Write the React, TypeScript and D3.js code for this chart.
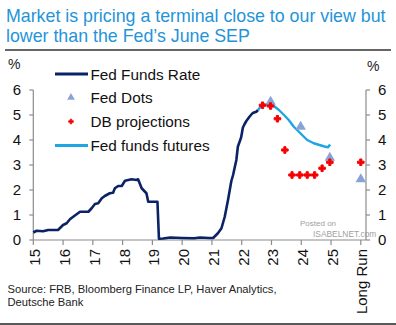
import React from "react";
import * as d3 from "d3";

const titleLines = ["Market is pricing a terminal close to our view but", "lower than the Fed\u2019s June SEP"];
const sourceLines = ["Source: FRB, Bloomberg Finance LP, Haver Analytics,", "Deutsche Bank"];

const xTickYears = [2015, 2016, 2017, 2018, 2019, 2020, 2021, 2022, 2023, 2024, 2025];
const xTickLabels = ["15", "16", "17", "18", "19", "20", "21", "22", "23", "24", "25"];
const longRunLabel = "Long Run";
const longRunX = 2026;
const yTicks = [0, 1, 2, 3, 4, 5, 6];

const fedFundsYears = [
  2015.0, 2015.11, 2015.33, 2015.5, 2015.83, 2016.0, 2016.12, 2016.23, 2016.34, 2016.57, 2016.85, 2016.96,
  2017.07, 2017.18, 2017.3, 2017.4, 2017.57, 2017.68, 2017.74, 2017.85, 2017.97, 2018.08, 2018.3, 2018.47,
  2018.52, 2018.64, 2018.8, 2018.86, 2019.03, 2019.17, 2019.22, 2019.36, 2019.6, 2020.0, 2020.4, 2020.6,
  2020.9, 2021.04, 2021.2, 2021.32, 2021.43, 2021.54, 2021.65, 2021.71, 2021.82, 2021.87, 2021.98, 2022.04,
  2022.09, 2022.15, 2022.26, 2022.37, 2022.49, 2022.55,
];
const fedFundsValues = [
  0.3, 0.37, 0.35, 0.4, 0.4, 0.6, 0.67, 0.83, 0.93, 1.13, 1.13, 1.27,
  1.44, 1.47, 1.67, 1.76, 1.87, 1.89, 2.07, 2.16, 2.16, 2.37, 2.43, 2.4,
  2.43, 2.07, 1.87, 1.53, 1.53, 1.53, 0.05, 0.06, 0.1, 0.08, 0.07, 0.1,
  0.08, 0.08, 0.27, 0.47, 0.93, 1.6, 2.35, 2.6, 3.2, 3.73, 4.1, 4.5,
  4.62, 4.75, 4.93, 5.08, 5.13, 5.2,
];

const futuresYears = [
  2022.55, 2022.63, 2022.75, 2022.85, 2022.97, 2023.08, 2023.25, 2023.42, 2023.58, 2023.75, 2023.97, 2024.2,
  2024.42, 2024.61, 2024.78, 2024.9, 2024.97,
];
const futuresValues = [
  5.2, 5.33, 5.42, 5.4, 5.47, 5.36, 5.2, 5.0, 4.8, 4.53, 4.27, 4.0,
  3.87, 3.8, 3.74, 3.71, 3.82,
];

const dbYears = [2022.7, 2022.97, 2023.2, 2023.45, 2023.69, 2023.95, 2024.2, 2024.45, 2024.7, 2024.96, longRunX];
const dbValues = [5.39, 5.36, 4.85, 3.6, 2.6, 2.6, 2.6, 2.6, 2.87, 3.11, 3.11];

const dotsYears = [2022.97, 2023.98, 2024.96, longRunX];
const dotsValues = [5.57, 4.57, 3.33, 2.47];

const legendLabels = ["Fed Funds Rate", "Fed Dots", "DB projections", "Fed funds futures"];

const NAVY = "#0b2366";
const LIGHT = "#1ea5e3";
const TRI = "#8aa3d6";
const RED = "#f50000";
const AXIS = "#8c8c8c";
const TITLE = "#2494d8";
const FONT = "Arial, 'Liberation Sans', sans-serif";

export default function App() {
  const x = d3.scaleLinear().domain([2015, 2026]).range([33.3, 360.8]);
  const y = d3.scaleLinear().domain([0, 6]).range([240, 90]);
  const leftX = 33.3;
  const rightX = 366;

  const line = d3
    .line<[number, number]>()
    .x((d) => x(d[0]))
    .y((d) => y(d[1]))
    .curve(d3.curveLinear);

  const ffData: [number, number][] = fedFundsYears.map((yr, i) => [yr, fedFundsValues[i]]);
  const futData: [number, number][] = futuresYears.map((yr, i) => [yr, futuresValues[i]]);

  const tri = d3.symbol().type(d3.symbolTriangle).size(48)();
  const triSmall = d3.symbol().type(d3.symbolTriangle).size(26)();
  const cross = d3.symbol().type(d3.symbolCross).size(24)();
  const crossSmall = d3.symbol().type(d3.symbolCross).size(12)();

  const legendY = [74, 97.5, 121.5, 145.5];

  return (
    <svg width={396} height={325} style={{ position: "absolute", left: 0, top: 0, background: "#fff" }} fontFamily={FONT}>
      <rect x={0} y={0} width={396} height={325} fill="#fff" />
      {/* title */}
      {titleLines.map((t, i) => (
        <text key={i} x={6} y={21.5 + i * 20.5} fontSize={17.8} fill={TITLE}>
          {t}
        </text>
      ))}
      <line x1={5} x2={391} y1={50} y2={50} stroke="#333" strokeWidth={1.6} />

      {/* unit labels */}
      <text x={8} y={69} fontSize={14} fill="#222">%</text>
      <text x={367} y={71} fontSize={14} fill="#222">%</text>

      {/* watermark */}
      <text x={300} y={226} fontSize={8} fill="#a0a0a0">Posted on</text>
      <text x={313} y={237} fontSize={8.4} fill="#a0a0a0">ISABELNET.com</text>

      {/* axes */}
      <line x1={leftX} x2={leftX} y1={y(6)} y2={y(0)} stroke={AXIS} strokeWidth={1.2} />
      <line x1={rightX} x2={rightX} y1={y(6)} y2={y(0)} stroke={AXIS} strokeWidth={1.2} />
      <line x1={leftX} x2={rightX} y1={y(0)} y2={y(0)} stroke={AXIS} strokeWidth={1.2} />
      {yTicks.map((v) => (
        <g key={v}>
          <line x1={leftX - 4} x2={leftX} y1={y(v)} y2={y(v)} stroke={AXIS} strokeWidth={1.2} />
          <line x1={rightX} x2={rightX + 4} y1={y(v)} y2={y(v)} stroke={AXIS} strokeWidth={1.2} />
          <text x={21} y={y(v)} dy="0.36em" textAnchor="end" fontSize={15} fill="#111">{v}</text>
          <text x={378} y={y(v)} dy="0.36em" textAnchor="start" fontSize={15} fill="#111">{v}</text>
        </g>
      ))}
      {xTickYears.concat([longRunX]).map((yr) => (
        <line key={yr} x1={x(yr)} x2={x(yr)} y1={y(0)} y2={y(0) + 5} stroke={AXIS} strokeWidth={1.2} />
      ))}
      {xTickYears.map((yr, i) => (
        <text
          key={yr}
          transform={`translate(${x(yr) + 1.5},249) rotate(-90)`}
          textAnchor="end"
          dy="0.36em"
          fontSize={15}
          fill="#111"
        >
          {xTickLabels[i]}
        </text>
      ))}
      <text transform={`translate(${x(longRunX) + 1},249) rotate(-90)`} textAnchor="end" dy="0.36em" fontSize={15} fill="#111">
        {longRunLabel}
      </text>

      {/* series */}
      <path d={line(ffData) || ""} fill="none" stroke={NAVY} strokeWidth={2.6} strokeLinejoin="round" />
      <path d={line(futData) || ""} fill="none" stroke={LIGHT} strokeWidth={2.4} strokeLinejoin="round" />
      {dotsYears.map((yr, i) => (
        <path key={i} d={tri || ""} transform={`translate(${x(yr)},${y(dotsValues[i]) + 1})`} fill={TRI} />
      ))}
      {dbYears.map((yr, i) => (
        <path
          key={i}
          d={cross || ""}
          transform={`translate(${x(yr)},${y(dbValues[i])})`}
          fill={RED}
          stroke={RED}
          strokeWidth={1}
          strokeLinejoin="round"
        />
      ))}

      {/* legend */}
      <line x1={55} x2={88} y1={legendY[0]} y2={legendY[0]} stroke={NAVY} strokeWidth={2.8} />
      <path d={triSmall || ""} transform={`translate(71,${legendY[1]})`} fill={TRI} />
      <path d={crossSmall || ""} transform={`translate(71,${legendY[2]})`} fill={RED} stroke={RED} strokeWidth={0.8} />
      <line x1={55} x2={88} y1={legendY[3]} y2={legendY[3]} stroke={LIGHT} strokeWidth={2.8} />
      {legendLabels.map((t, i) => (
        <text key={t} x={90.5} y={legendY[i]} dy="0.36em" fontSize={15.3} fill="#111">
          {t}
        </text>
      ))}

      {/* source */}
      {sourceLines.map((t, i) => (
        <text key={i} x={7.5} y={293 + i * 12.5} fontSize={11.2} fill="#222">
          {t}
        </text>
      ))}
      <line x1={0} x2={396} y1={324} y2={324} stroke="#222" strokeWidth={1.6} />
    </svg>
  );
}
